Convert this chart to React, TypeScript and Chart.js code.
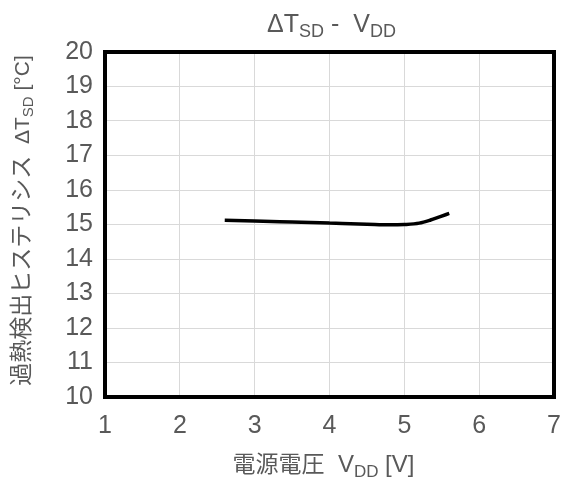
import React, { useEffect, useRef } from "react";
import { Chart, registerables } from "chart.js";

Chart.register(...registerables);

const vddValues = [2.6, 3.0, 3.5, 4.0, 4.5, 4.8, 5.0, 5.2, 5.35, 5.48, 5.6];
const dTsdValues = [15.12, 15.1, 15.07, 15.04, 15.01, 14.99, 15.0, 15.04, 15.13, 15.23, 15.32];
const xTickRange = [1, 7];
const yTickRange = [10, 20];

const LATIN = "'Liberation Sans', Arial, sans-serif";
const CJK = "'Noto Sans CJK JP', sans-serif";
const TEXT = "#595959";

type Seg = { t: string; size: number; fam: string; dy?: number };

function drawRich(ctx: CanvasRenderingContext2D, segs: Seg[], x: number, y: number) {
  let total = 0;
  const widths: number[] = [];
  for (const s of segs) {
    ctx.font = `${s.size}px ${s.fam}`;
    const w = ctx.measureText(s.t).width;
    widths.push(w);
    total += w;
  }
  let cx = x - total / 2;
  ctx.textBaseline = "alphabetic";
  ctx.textAlign = "left";
  ctx.fillStyle = TEXT;
  segs.forEach((s, i) => {
    ctx.font = `${s.size}px ${s.fam}`;
    ctx.fillText(s.t, cx, y + (s.dy || 0));
    cx += widths[i];
  });
}

const decorPlugin = {
  id: "decor",
  afterDraw(chart: any) {
    const { ctx, chartArea } = chart;
    ctx.save();
    ctx.strokeStyle = "#000";
    ctx.lineWidth = 4;
    ctx.lineJoin = "miter";
    ctx.strokeRect(chartArea.left, chartArea.top, chartArea.right - chartArea.left, chartArea.bottom - chartArea.top);

    const cx = (chartArea.left + chartArea.right) / 2;
    // title
    drawRich(ctx, [
      { t: "ΔT", size: 25, fam: LATIN },
      { t: "SD", size: 18, fam: LATIN, dy: 5 },
      { t: " -  V", size: 25, fam: LATIN },
      { t: "DD", size: 18, fam: LATIN, dy: 5 },
    ], cx + 2, 32);
    // x title
    drawRich(ctx, [
      { t: "電源電圧", size: 23, fam: CJK },
      { t: "  V", size: 24, fam: LATIN },
      { t: "DD", size: 17, fam: LATIN, dy: 5 },
      { t: " [V]", size: 24, fam: LATIN },
    ], cx - 6, 472);
    // y title
    ctx.translate(29, (chartArea.top + chartArea.bottom) / 2 - 4);
    ctx.rotate(-Math.PI / 2);
    drawRich(ctx, [
      { t: "過熱検出ヒステリシス", size: 23, fam: CJK },
      { t: "  ΔT", size: 21, fam: LATIN },
      { t: "SD", size: 15, fam: LATIN, dy: 4 },
      { t: " [°C]", size: 21, fam: LATIN },
    ], 0, 0);
    ctx.restore();
  },
};

export default function App() {
  const ref = useRef<HTMLCanvasElement | null>(null);
  useEffect(() => {
    if (!ref.current) return;
    const chart = new Chart(ref.current, {
      type: "line",
      data: {
        datasets: [
          {
            data: vddValues.map((v, i) => ({ x: v, y: dTsdValues[i] })),
            borderColor: "#000",
            borderWidth: 3.5,
            pointRadius: 0,
            cubicInterpolationMode: "monotone",
            fill: false,
          },
        ],
      },
      options: {
        animation: false,
        responsive: false,
        layout: { padding: { top: 52, right: 9, left: 0, bottom: 0 } },
        plugins: { legend: { display: false }, title: { display: false }, tooltip: { enabled: false } },
        scales: {
          x: {
            type: "linear",
            min: xTickRange[0],
            max: xTickRange[1],
            afterFit: (s: any) => { s.height = 86; s.paddingLeft = 0; s.paddingRight = 0; },
            grid: { color: "#d9d9d9", lineWidth: 1, drawTicks: false },
            border: { display: false },
            ticks: { stepSize: 1, color: TEXT, font: { family: LATIN, size: 25 }, padding: 14 },
          },
          y: {
            type: "linear",
            min: yTickRange[0],
            max: yTickRange[1],
            afterFit: (s: any) => { s.width = 105; s.paddingTop = 0; s.paddingBottom = 0; },
            grid: { color: "#d9d9d9", lineWidth: 1, drawTicks: false },
            border: { display: false },
            ticks: { stepSize: 1, color: TEXT, font: { family: LATIN, size: 25 }, padding: 12 },
          },
        },
      },
      plugins: [decorPlugin],
    } as any);
    return () => chart.destroy();
  }, []);
  return (
    <div style={{ position: "absolute", left: 0, top: 0, width: 563, height: 483, background: "#fff" }}>
      <canvas ref={ref} width={563} height={483} />
    </div>
  );
}
